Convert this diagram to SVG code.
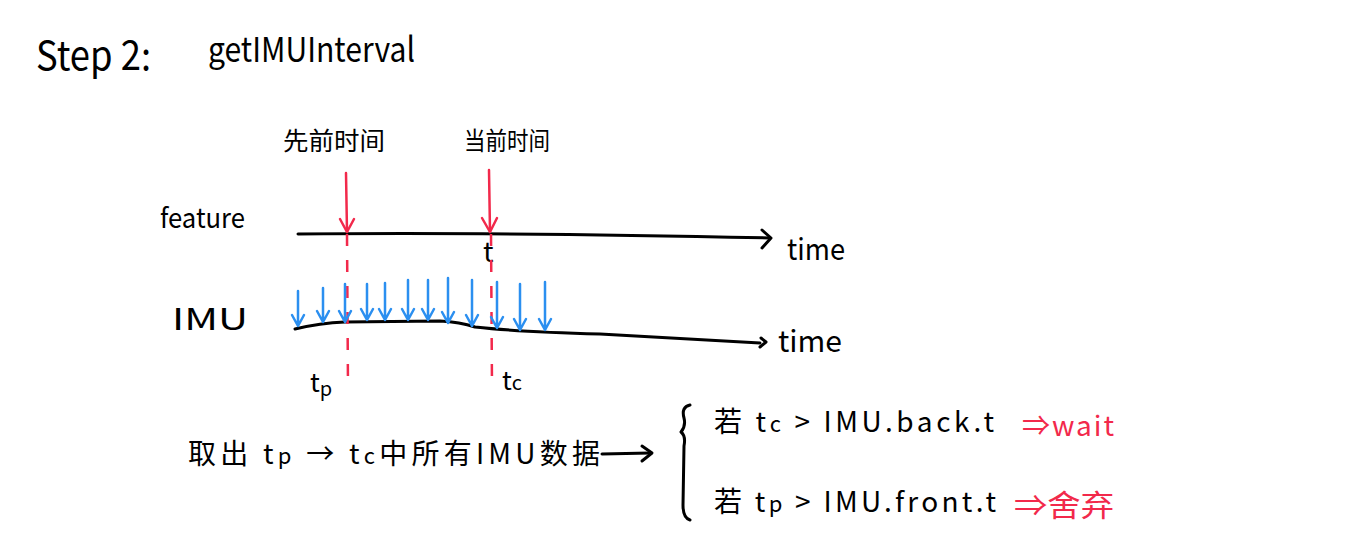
<svg xmlns="http://www.w3.org/2000/svg" width="1368" height="551" viewBox="0 0 1368 551">
<defs>
<style>
.t{font-family:"Noto Sans CJK SC","Liberation Sans",sans-serif;fill:#000}
.r{fill:#f2294b}
.k{stroke:#000;stroke-width:3;fill:none;stroke-linecap:round;stroke-linejoin:round}
.red{stroke:#f2294b;stroke-width:2.5;fill:none;stroke-linecap:round;stroke-linejoin:round}
.dash{stroke:#f2294b;stroke-width:2.5;fill:none;stroke-dasharray:12 14}
.blue{stroke:#2b8ff0;stroke-width:2.5;fill:none;stroke-linecap:round;stroke-linejoin:round}
</style>
</defs>
<rect width="1368" height="551" fill="#fff"/>
<g id="title">
<text class="t" x="36" y="70" font-size="40" textLength="115" lengthAdjust="spacingAndGlyphs">Step 2:</text>
<text class="t" x="208" y="62" font-size="34" textLength="207" lengthAdjust="spacingAndGlyphs">getIMUInterval</text>
</g>
<g id="labels">
<text class="t" x="283" y="150" font-size="25" textLength="102" lengthAdjust="spacingAndGlyphs">先前时间</text>
<text class="t" x="464" y="150" font-size="25" textLength="86" lengthAdjust="spacingAndGlyphs">当前时间</text>
<text class="t" x="160" y="228" font-size="28" textLength="85" lengthAdjust="spacingAndGlyphs">feature</text>
<text class="t" x="172" y="330" font-size="30" textLength="76" lengthAdjust="spacingAndGlyphs">IMU</text>
<text class="t" x="483" y="262" font-size="28">t</text>
<text class="t" x="310" y="392" font-size="26">t<tspan font-size="20" dy="4">p</tspan></text>
<text class="t" x="502" y="390" font-size="26">t<tspan font-size="20">c</tspan></text>
<text class="t" x="787" y="260" font-size="30" textLength="58" lengthAdjust="spacingAndGlyphs">time</text>
<text class="t" x="778" y="352" font-size="30" textLength="64" lengthAdjust="spacingAndGlyphs">time</text>
</g>
<g id="timelines">
<path class="k" d="M298 234 Q500 232 770 238"/>
<path class="k" d="M762 230 L771 238 L762 248"/>
<path class="k" d="M295 329 Q320 323 345 322 L440 321 Q460 322 475 327 Q520 332 600 334 L760 343"/>
<path class="k" d="M761 338 L766 342 L760 347"/>
</g>
<g id="red-markers">
<path class="red" d="M346 173 L347 232"/>
<path class="red" d="M340 219 L347 232 L354 219"/>
<path class="red" d="M489 170 L490 232"/>
<path class="red" d="M482 218 L490 232 L497 218"/>
<path class="dash" d="M347 234 L348 390"/>
<path class="dash" d="M491 234 L492 388"/>
</g>
<g id="imu-samples" class="blue">
<path d="M298 291 V326 M292 315 L298 326 L304 315"/>
<path d="M323 288 V322 M317 311 L323 322 L329 311"/>
<path d="M345 284 V322 M339 311 L345 322 L351 311"/>
<path d="M367 284 V320 M361 309 L367 320 L373 309"/>
<path d="M385 283 V320 M379 309 L385 320 L391 309"/>
<path d="M408 280 V320 M402 309 L408 320 L414 309"/>
<path d="M428 280 V320 M422 309 L428 320 L434 309"/>
<path d="M448 278 V323 M442 312 L448 323 L454 312"/>
<path d="M472 280 V326 M466 315 L472 326 L478 315"/>
<path d="M497 282 V328 M491 317 L497 328 L503 317"/>
<path d="M520 284 V330 M514 319 L520 330 L526 319"/>
<path d="M545 282 V330 M539 319 L545 330 L551 319"/>
</g>
<g id="summary">
<text class="t" x="188" y="464" font-size="28" textLength="412" lengthAdjust="spacing">取出 t<tspan font-size="22">p</tspan> → t<tspan font-size="22">c</tspan>中所有IMU数据</text>
<path class="k" d="M602 454 L650 453"/>
<path class="k" d="M642 446 L652 453 L642 461"/>
</g>
<g id="conditions">
<path class="k" d="M690 405 Q681 407 684 418 Q686 426 681 432 Q686 436 684 446 L683 505 Q683 518 690 520"/>
<text class="t" x="714" y="432" font-size="28" textLength="280" lengthAdjust="spacing">若 t<tspan font-size="22">c</tspan> &gt; IMU.back.t</text>
<text class="t r" x="1022" y="436" font-size="28" textLength="92" lengthAdjust="spacing">⇒wait</text>
<text class="t" x="714" y="512" font-size="28" textLength="282" lengthAdjust="spacing">若 t<tspan font-size="22">p</tspan> &gt; IMU.front.t</text>
<text class="t r" x="1014" y="516" font-size="30" textLength="100" lengthAdjust="spacingAndGlyphs">⇒舍弃</text>
</g>
</svg>
